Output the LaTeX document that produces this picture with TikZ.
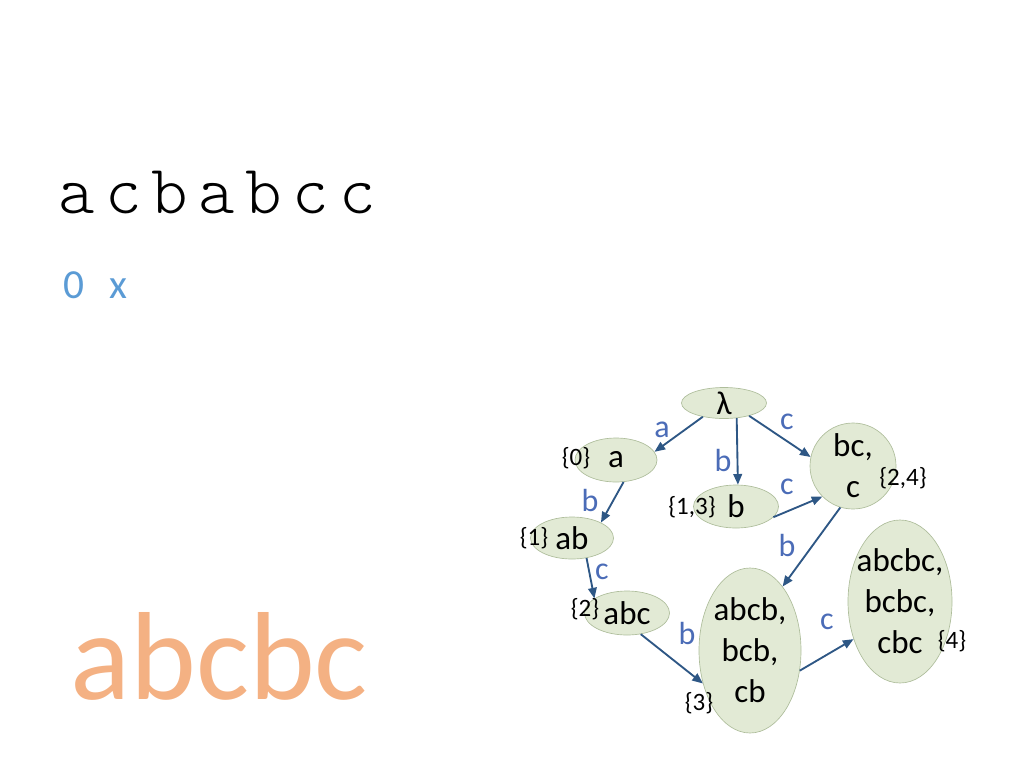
\documentclass[tikz,border=0pt]{standalone}
\usepackage{fontspec}
\setmainfont{Carlito}
\newfontfamily\courierfont[LetterSpace=15]{lmmonolt10-regular.otf}
\usetikzlibrary{shapes.geometric,arrows.meta}
\definecolor{statefill}{HTML}{E2EAD5}
\definecolor{stateline}{HTML}{AEBD9B}
\definecolor{arrowblue}{HTML}{2E5785}
\definecolor{lblblue}{HTML}{4B6CB7}
\definecolor{countblue}{HTML}{5B9BD5}
\definecolor{wordorange}{HTML}{F4B183}
\tikzset{
  state/.style={ellipse, fill=statefill, draw=stateline, line width=0.5pt,
    inner sep=-10pt, align=center, font=\fontsize{24.75}{30.75}\selectfont},
  setlbl/.style={inner sep=0pt, font=\fontsize{18.75}{22}\selectfont},
  edgelbl/.style={inner sep=0pt, text=lblblue, font=\fontsize{24}{28}\selectfont},
  trans/.style={draw=arrowblue, line width=1.4pt, -{Triangle[length=8pt,width=6.5pt]}}
}

\begin{document}
\begin{tikzpicture}[x=0.75pt,y=0.75pt,yscale=-1,xscale=1]
\useasboundingbox (0,0) rectangle (1024,768);

% Text Node
\node[anchor=base west, inner sep=0pt, font=\courierfont\fontsize{52}{54}\selectfont] (word) at (58,213) {acbabcc};
% Text Node
\node[anchor=base west, inner sep=0pt, text=countblue, font=\fontsize{31}{34}\selectfont] (count) at (63,298) {0~~\,x};
% Text Node
\node[anchor=base west, inner sep=0pt, text=wordorange, font=\fontsize{94}{100}\selectfont] (answer) at (70,699) {abcbc};

%States
\node[state, minimum width=63.75pt, minimum height=23.25pt] (lam) at (724,403) {λ};
\node[state, minimum width=61.5pt, minimum height=33pt] (na) at (616,460) {a};
\node[state, minimum width=63.75pt, minimum height=32.25pt] (nb) at (736,506.5) {b};
\node[state, minimum width=64.5pt, minimum height=64.5pt] (nbc) at (853,466) {bc,\\c};
\node[state, minimum width=62.25pt, minimum height=31.5pt] (nab) at (572,538) {ab};
\node[state, minimum width=63.75pt, minimum height=33pt] (nabc) at (627,613) {abc};
\node[state, minimum width=76.5pt, minimum height=123.75pt] (nabcb) at (750,650.5) {abcb,\\bcb,\\cb};
\node[state, minimum width=78pt, minimum height=122.25pt] (nabcbc) at (900,601.5) {abcbc,\\bcbc,\\cbc};

%Sets
\node[setlbl] (sa) at (576,458) {\{0\}};
\node[setlbl] (sb) at (692,507) {\{1,3\}};
\node[setlbl] (sbc) at (903,478) {\{2,4\}};
\node[setlbl] (sab) at (534,538) {\{1\}};
\node[setlbl] (sabc) at (585,609) {\{2\}};
\node[setlbl] (sabcb) at (699,703) {\{3\}};
\node[setlbl] (sabcbc) at (952,641) {\{4\}};

%Transitions
\draw[trans] (lam.213) -- (na.12);
\draw[trans] (lam.-50) -- (nb.85);
\draw[trans] (lam.-27) -- (nbc.168);
\draw[trans] (nb.-16) -- (nbc.225);
\draw[trans] (na.-71) -- (nab.28);
\draw[trans] (nab.-54) -- (nabc.156);
\draw[trans] (nbc.-107) -- (nabcb.63);
\draw[trans] (nabc.-57) -- (nabcb.215);
\draw[trans] (nabcb.-22) -- (nabcbc.219);

% Text Node
\node[edgelbl] (ta) at (662,430) {a};
\node[edgelbl] (tb) at (723,460) {b};
\node[edgelbl] (tc) at (787,422) {c};
\node[edgelbl] (tbc) at (787,487) {c};
\node[edgelbl] (tab) at (590,500) {b};
\node[edgelbl] (tabc) at (602,572) {c};
\node[edgelbl] (tbcb) at (787,545) {b};
\node[edgelbl] (tabcb) at (687,633) {b};
\node[edgelbl] (tabcbc) at (827,622) {c};

\end{tikzpicture}
\end{document}
